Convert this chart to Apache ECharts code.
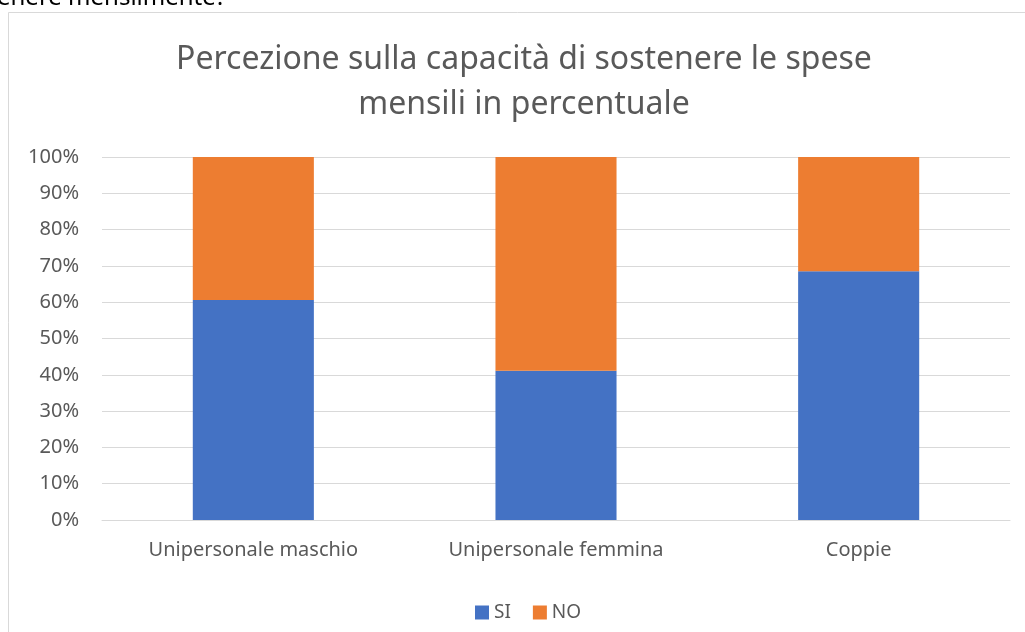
<!DOCTYPE html>
<html>
<head>
<meta charset="utf-8">
<script src="https://cdn.jsdelivr.net/npm/echarts@6/dist/echarts.min.js"></script>
<style>
  html, body { margin: 0; padding: 0; background: #fff; }
  #chart { width: 1025px; height: 632px; }
</style>
</head>
<body>
<div id="chart"></div>
<script>
const categories = ['Unipersonale maschio', 'Unipersonale femmina', 'Coppie']
const siValues = [60.6, 41.1, 68.5]
const noValues = [39.4, 58.9, 31.5]
const titleLines = 'Percezione sulla capacità di sostenere le spese\nmensili in percentuale'

const font = 'Noto Sans'
const chart = echarts.init(document.getElementById('chart'))

chart.setOption({
  backgroundColor: '#fff',
  animation: false,
  textStyle: { fontFamily: font },
  title: {
    text: titleLines,
    left: 519,
    textAlign: 'center',
    top: 32,
    textStyle: { color: '#595959', fontSize: 32, fontWeight: 'normal', lineHeight: 45, fontFamily: font },
  },
  graphic: [
    {
      type: 'rect',
      shape: { x: 8.5, y: 12.5, width: 1100, height: 700 },
      style: { fill: 'none', stroke: '#d9d9d9', lineWidth: 1 },
      silent: true,
    },
    {
      type: 'text',
      x: -3,
      y: -14,
      style: { text: 'enere mensilmente?', fill: '#000', fontSize: 24, fontFamily: font },
      silent: true,
    },
  ],
  legend: {
    bottom: 5,
    left: 470,
    itemWidth: 14,
    itemHeight: 14,
    itemGap: 22,
    icon: 'rect',
    textStyle: { color: '#595959', fontSize: 19, fontFamily: font },
    data: ['SI', 'NO'],
  },
  grid: { left: 102, right: 15, top: 157, bottom: 112, containLabel: false },
  xAxis: {
    type: 'category',
    data: categories,
    axisLine: { lineStyle: { color: '#d9d9d9' } },
    axisTick: { show: false },
    axisLabel: { color: '#595959', fontSize: 20, margin: 20, fontFamily: font },
  },
  yAxis: {
    type: 'value',
    min: 0,
    max: 100,
    interval: 10,
    axisLine: { show: false },
    axisTick: { show: false },
    axisLabel: { color: '#595959', fontSize: 20, margin: 23, formatter: '{value}%', fontFamily: font },
    splitLine: { lineStyle: { color: '#d9d9d9', width: 1 } },
  },
  series: [
    { name: 'SI', type: 'bar', stack: 'tot', barWidth: '40%', itemStyle: { color: '#4472C4' }, data: siValues },
    { name: 'NO', type: 'bar', stack: 'tot', barWidth: '40%', itemStyle: { color: '#ED7D31' }, data: noValues },
  ],
})
</script>
</body>
</html>
